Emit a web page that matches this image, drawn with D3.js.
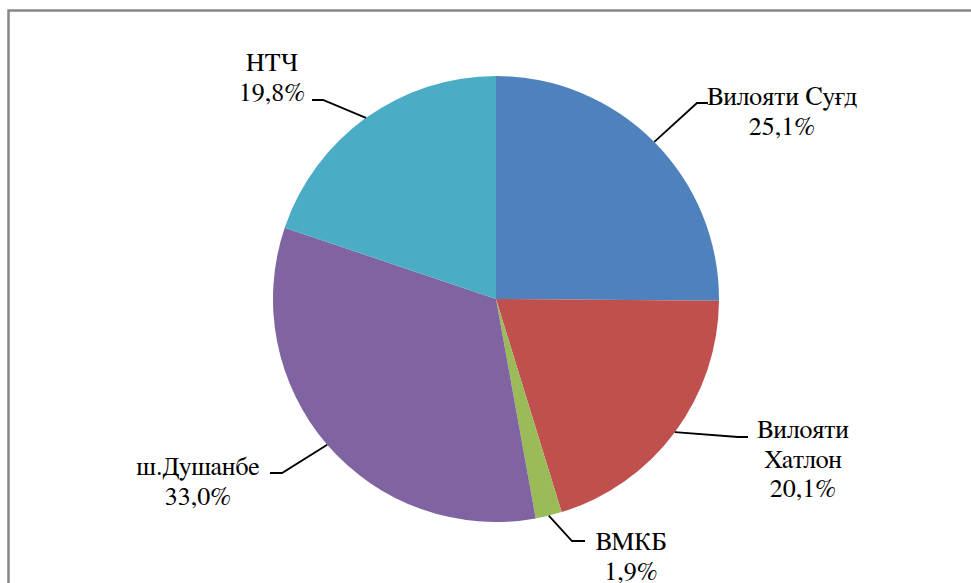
<!DOCTYPE html>
<html>
<head>
<meta charset="utf-8">
<script src="https://cdn.jsdelivr.net/npm/d3@7"></script>
<style>
  html, body { margin: 0; padding: 0; background: #fff; }
  svg { display: block; }
  .lbl { font-family: "FreeSerif", "Liberation Serif", "Times New Roman", serif; font-size: 26px; }
</style>
</head>
<body>
<svg id="chart" width="971" height="583"></svg>
<script>
// ---- data ----
const categories = ["Вилояти Суғд", "Вилояти Хатлон", "ВМКБ", "ш.Душанбе", "НТЧ"];
const values = [25.1, 20.1, 1.9, 33.0, 19.8];
const colors = ["#4F81BD", "#C0504D", "#9BBB59", "#8064A2", "#4BACC6"];

// ---- layout (label placement) ----
const labelLines = [
  ["Вилояти Суғд"],
  ["Вилояти", "Хатлон"],
  ["ВМКБ"],
  ["ш.Душанбе"],
  ["НТЧ"]
];
const labelAnchor = [
  {x: 782, y: 105, elbow: [697, 103], end: [708, 103]},
  {x: 803, y: 438, elbow: [738, 437], end: [748, 437]},
  {x: 631, y: 550, elbow: [572, 541], end: [585, 541]},
  {x: 198, y: 475, elbow: [282, 473], end: [270, 473]},
  {x: 272, y: 71,  elbow: [323, 100], end: [312, 100]}
];

const svg = d3.select("#chart");
const cx = 496, cy = 299, R = 223;
const lineH = 29.5;

// border
svg.append("rect")
  .attr("x", 8.5).attr("y", 10.5)
  .attr("width", 1000).attr("height", 1000)
  .attr("fill", "none")
  .attr("stroke", "#878787")
  .attr("stroke-width", 2.5);

const pie = d3.pie().sort(null).value(d => d)(values);
const arc = d3.arc().innerRadius(0).outerRadius(R);

const g = svg.append("g").attr("transform", `translate(${cx},${cy})`);
g.selectAll("path.slice")
  .data(pie)
  .join("path")
  .attr("class", "slice")
  .attr("d", arc)
  .attr("fill", (d, i) => colors[i]);

const fmt = v => d3.format(".1f")(v).replace(".", ",") + "%";

// leader lines
pie.forEach((d, i) => {
  const a = (d.startAngle + d.endAngle) / 2;
  const p0 = [cx + R * Math.sin(a), cy - R * Math.cos(a)];
  const L = labelAnchor[i];
  svg.append("path")
    .attr("d", d3.line()([p0, L.elbow, L.end]))
    .attr("fill", "none")
    .attr("stroke", "#000")
    .attr("stroke-width", 1.8);
});

// labels
pie.forEach((d, i) => {
  const L = labelAnchor[i];
  const lines = labelLines[i].concat([fmt(values[i])]);
  const t = svg.append("text")
    .attr("class", "lbl")
    .attr("text-anchor", "middle")
    .attr("fill", "#000");
  lines.forEach((s, k) => {
    t.append("tspan").attr("x", L.x).attr("y", L.y + k * lineH).text(s);
  });
});
</script>
</body>
</html>
